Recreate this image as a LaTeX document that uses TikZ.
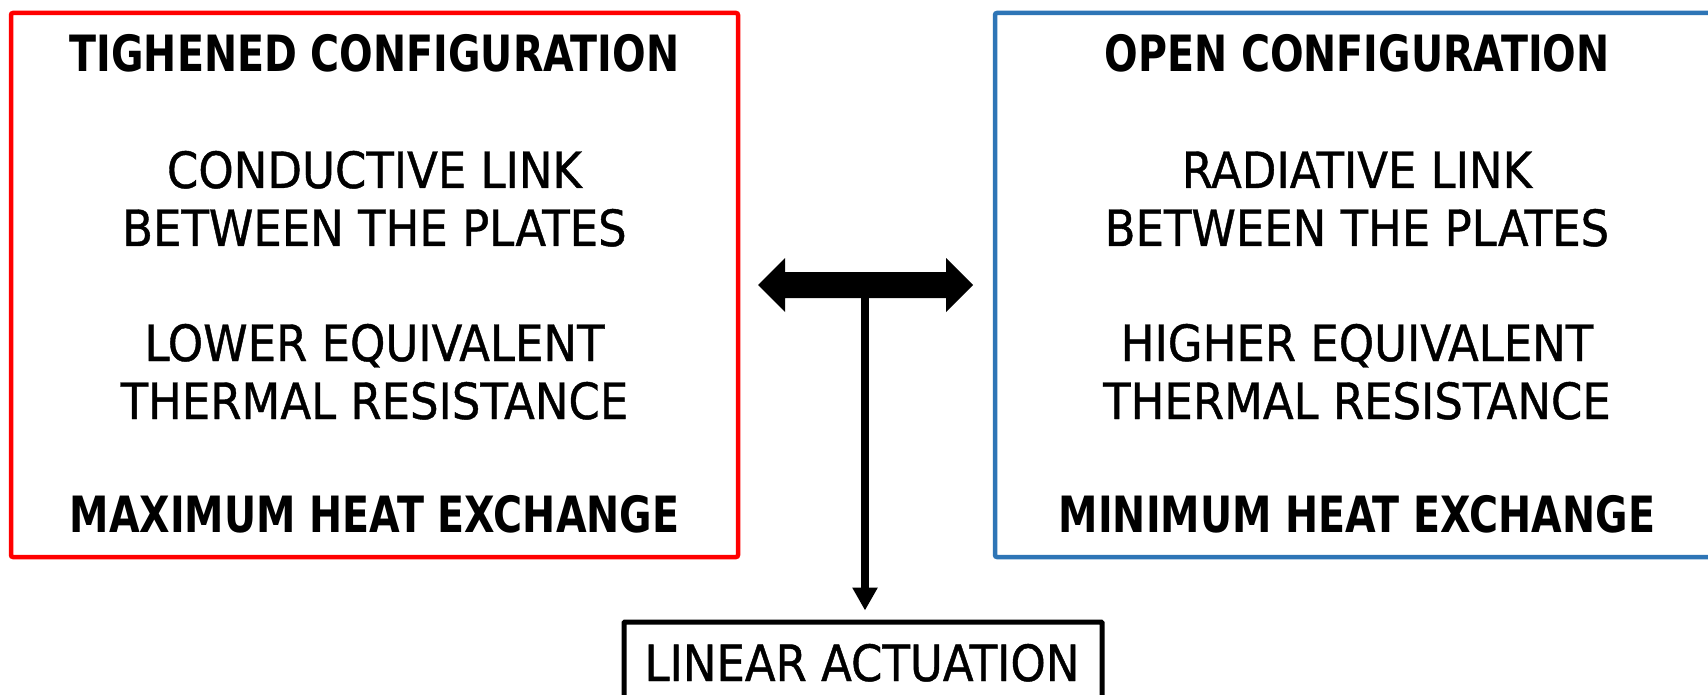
\documentclass[tikz,border=0pt]{standalone}
\usepackage{fontspec}
\setmainfont{DejaVu Sans Condensed}[FakeBold=0.8]
\newfontfamily\hdrfont{DejaVu Sans Condensed Bold}[FakeStretch=0.88]
\usetikzlibrary{arrows.meta}
\definecolor{hotred}{RGB}{255,0,0}
\definecolor{coolblue}{RGB}{46,117,182}
\tikzset{
  panel/.style={draw, line width=4.5pt, rounded corners=2pt, inner sep=0pt},
  txt/.style={anchor=base, inner sep=0pt, font=\fontsize{50}{60}\selectfont},
  hdr/.style={txt, font=\fontsize{50}{60}\selectfont\hdrfont},
}
\begin{document}
\begin{tikzpicture}[x=1pt,y=-1pt]
\useasboundingbox (0,0) rectangle (1708,695);
\fill[white] (0,0) rectangle (1708,695);

% tightened configuration panel
\node[panel, draw=hotred, minimum width=727pt, minimum height=544pt] (tight) at (374.5,285) {};
\node[hdr] (t1) at (374.5,72) {TIGHENED CONFIGURATION};
\node[txt] (t2) at (374.5,188) {CONDUCTIVE LINK};
\node[txt] (t3) at (374.5,246) {BETWEEN THE PLATES};
\node[txt] (t4) at (374.5,361) {LOWER EQUIVALENT};
\node[txt] (t5) at (374.5,419) {THERMAL RESISTANCE};
\node[hdr] (t6) at (374.5,532) {MAXIMUM HEAT EXCHANGE};

% open configuration panel
\node[panel, draw=coolblue, minimum width=724pt, minimum height=544pt] (open) at (1357,285) {};
\node[hdr] (o1) at (1357,72) {OPEN CONFIGURATION};
\node[txt] (o2) at (1357,188) {RADIATIVE LINK};
\node[txt] (o3) at (1357,246) {BETWEEN THE PLATES};
\node[txt] (o4) at (1357,361) {HIGHER EQUIVALENT};
\node[txt] (o5) at (1357,419) {THERMAL RESISTANCE};
\node[hdr] (o6) at (1357,532) {MINIMUM HEAT EXCHANGE};

% actuation box
\node[panel, draw=black, line width=5pt, rounded corners=1pt, minimum width=478pt, minimum height=150pt] (lin) at (863,697) {};
\node[txt] (lt) at (862,681) {LINEAR ACTUATION};

% two-headed switching arrow with its stem down to the actuator
\coordinate (sw) at (865,285);
\draw[line width=7.5pt, -{Triangle[length=23pt,width=24pt]}, shorten >=9pt]
  (sw) -- (sw |- lin.north);
\fill[black] (758,285) -- (785,258) -- (785,272) -- (946,272) -- (946,258)
  -- (973,285) -- (946,312) -- (946,298) -- (785,298) -- (785,312) -- cycle;
\end{tikzpicture}
\end{document}
